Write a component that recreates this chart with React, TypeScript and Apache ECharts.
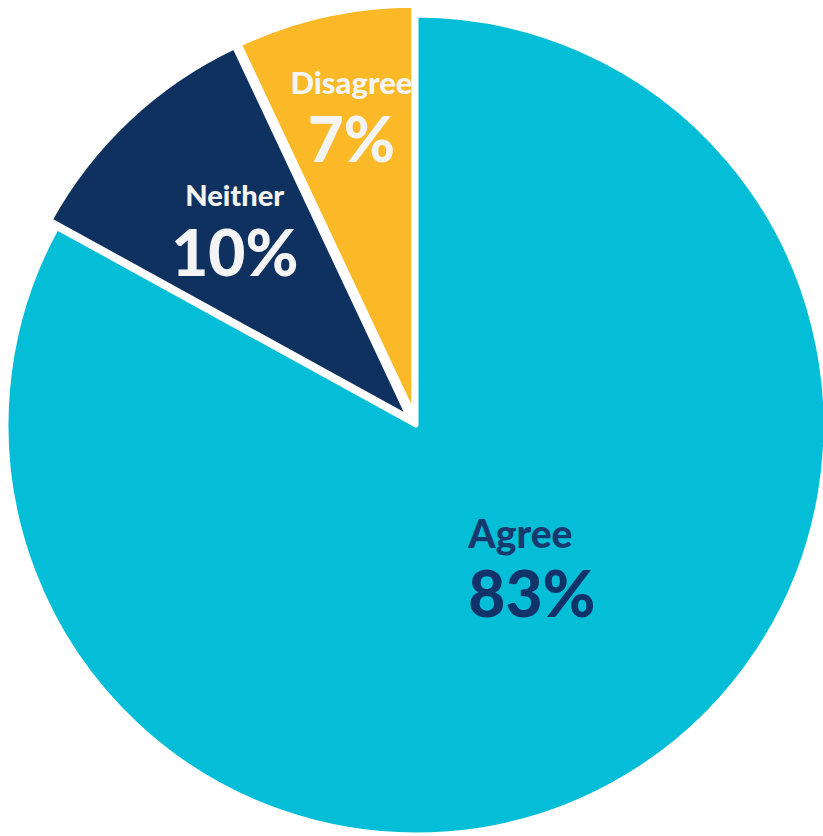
import React, { useEffect, useRef } from "react";
import * as echarts from "echarts";

const categories = ["Agree", "Neither", "Disagree"];
const values = [83, 10, 7];
const colors = ["#04BED8", "#0F3160", "#FBB827"];
const exploded = [false, true, true];

export default function App() {
  const ref = useRef<HTMLDivElement>(null);
  useEffect(() => {
    if (!ref.current) return;
    const chart = echarts.init(ref.current, null, { renderer: "svg" });
    const font = "Lato, 'Open Sans', sans-serif";
    const labelStyles = [
      { nameSize: 39, valSize: 64, color: "#173A6E", valColor: "#12336A", gap: 12, align: "left" },
      { nameSize: 29, valSize: 64, color: "#F4F4F4", valColor: "#F4F4F4", gap: 18, align: "center" },
      { nameSize: 31, valSize: 62, color: "#F4F4F4", valColor: "#F4F4F4", gap: 14, align: "center" },
    ];
    const shifts = [
      [10, -37],
      [-32, -38],
      [-17, -97],
    ];
    chart.setOption({
      animation: false,
      series: [
        {
          type: "pie",
          center: [416, 425],
          radius: [0, 410],
          startAngle: 90,
          clockwise: true,
          selectedMode: "multiple",
          selectedOffset: 10,
          emphasis: { disabled: true },
          itemStyle: { borderColor: "#ffffff", borderWidth: 5 },
          labelLayout: (params: any) => {
            const s = shifts[params.dataIndex] || [0, 0];
            return { dx: s[0], dy: s[1] };
          },
          data: categories.map((name, i) => ({
            name,
            value: values[i],
            selected: exploded[i],
            itemStyle: { color: colors[i] },
            label: {
              show: true,
              position: "inside",
              formatter: "{n|{b}}\n{v|{c}%}",
              rich: {
                n: {
                  fontFamily: font,
                  fontWeight: 900,
                  fontSize: labelStyles[i].nameSize,
                  color: labelStyles[i].color,
                  lineHeight: labelStyles[i].nameSize + labelStyles[i].gap,
                  align: labelStyles[i].align,
                },
                v: {
                  fontFamily: font,
                  fontWeight: 900,
                  fontSize: labelStyles[i].valSize,
                  color: labelStyles[i].valColor,
                  lineHeight: labelStyles[i].valSize + 4,
                  align: labelStyles[i].align,
                },
              },
            },
          })),
        },
      ],
    });
    return () => chart.dispose();
  }, []);
  return (
    <div
      ref={ref}
      style={{ position: "fixed", left: 0, top: 0, width: 823, height: 836, background: "#ffffff" }}
    />
  );
}
